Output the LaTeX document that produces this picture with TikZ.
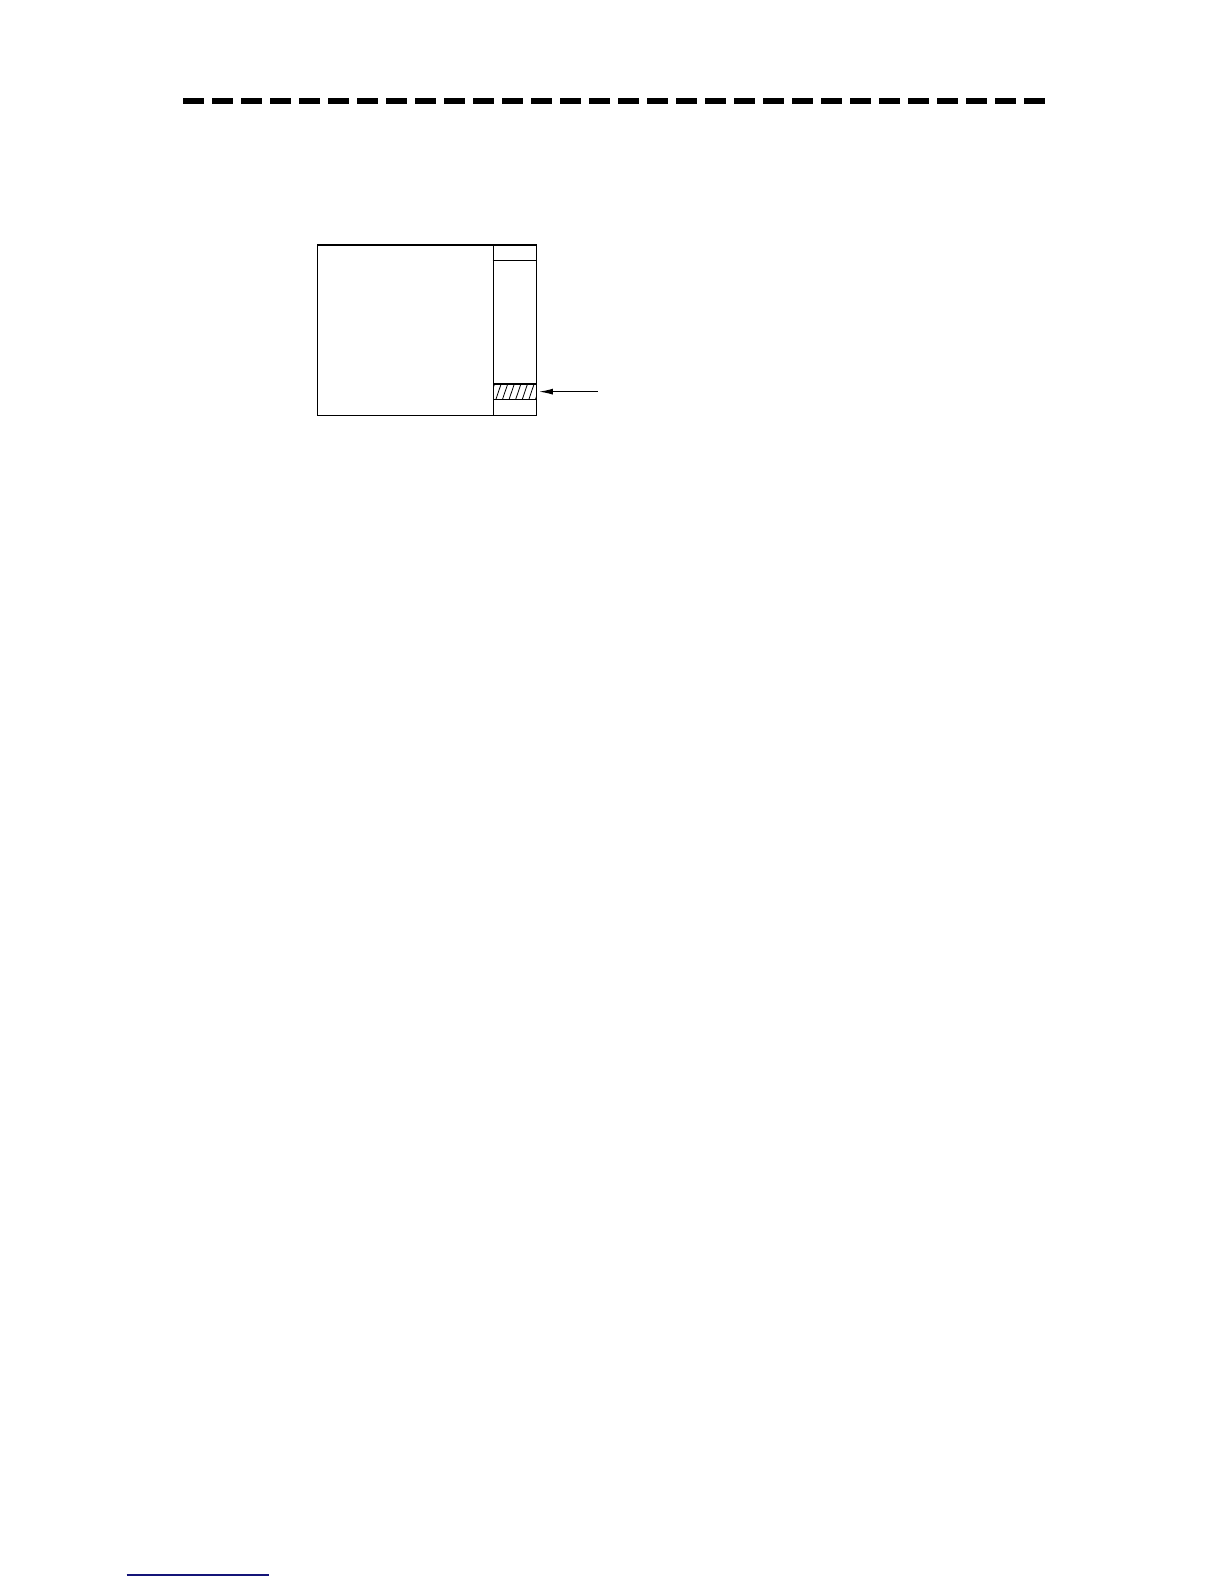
\documentclass[tikz,border=0pt]{standalone}
\usetikzlibrary{positioning,arrows.meta}
\definecolor{linkblue}{RGB}{20,20,120}
\begin{document}
\begin{tikzpicture}[x=0.5pt,y=-0.5pt,
    frame/.style={draw,line width=0.65pt,inner sep=0pt},
    hatched/.style={frame,path picture={
        \foreach \k in {0,...,8}
          \draw[line width=0.4pt] ([xshift=\k*3.3pt-2pt]path picture bounding box.south west) -- ++(2.6pt,7.65pt);
      }}]
    \useasboundingbox (0,0) rectangle (1224,1584);

    % rule at the top
    \draw[line width=3pt,dash pattern=on 10.5pt off 4pt] (183,101) -- (1045,101);

    % screen with side bar
    \node[frame,minimum width=109.5pt,minimum height=85.4pt] (screen) at (426.8,330.3) {};
    \node[frame,minimum width=21.5pt,minimum height=85.4pt,anchor=north east] (sidebar) at (screen.north east) {};
    \draw[line width=0.65pt] ([yshift=-8pt]sidebar.north west) -- ([yshift=-8pt]sidebar.north east);
    \node[hatched,minimum width=21.5pt,minimum height=7.65pt,anchor=south east] (level) at ([yshift=8.2pt]sidebar.south east) {};

    \coordinate (pointer) at ([xshift=30.5pt]level.east);
    \draw[line width=0.6pt,-{Latex[length=7pt,width=3pt]}] (pointer) -- ([xshift=1pt]level.east);

    % link line at the foot
    \draw[linkblue,line width=0.6pt] (126.7,1575) -- (269,1575);
\end{tikzpicture}
\end{document}
